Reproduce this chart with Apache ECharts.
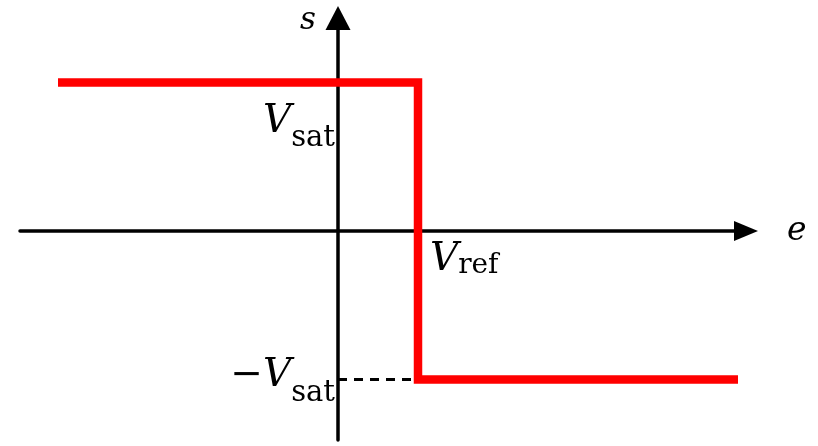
<!DOCTYPE html>
<html>
<head>
<meta charset="utf-8">
<title>Comparator transfer characteristic</title>
<script src="https://cdn.jsdelivr.net/npm/echarts@6/dist/echarts.min.js"></script>
<style>
  html, body { margin: 0; padding: 0; background: #fff; }
  #chart { width: 818px; height: 446px; }
</style>
</head>
<body>
<div id="chart"></div>
<script>
// Ideal comparator: output s switches from +Vsat to -Vsat when e crosses Vref.
const vRef = 1;     // switching threshold on the e axis
const vSat = 1;     // saturation level on the s axis

// Transfer curve (e, s) vertices
const curveE = [-3.5, vRef, vRef, 5];
const curveS = [vSat, vSat, -vSat, -vSat];

// Dashed guide from the s axis to the lower branch
const guideE = [0, vRef];
const guideS = [-vSat, -vSat];

// Axis names and level labels
const axisNameE = 'e';
const axisNameS = 's';
const levelLabels = [
  { key: 'sat',  e: 0,    s: vSat,  text: '{v|V}{sub|sat}' },
  { key: 'ref',  e: vRef, s: 0,     text: '{v|V}{sub|ref}' },
  { key: 'nsat', e: 0,    s: -vSat, text: '{v|\u2212V}{sub|sat}' }
];

const toPairs = (xs, ys) => xs.map((x, i) => [x, ys[i]]);

const serif = "'DejaVu Serif', 'Liberation Serif', serif";
const richFor = (subShift, subSize) => ({
  v:   { fontFamily: serif, fontStyle: 'italic', fontSize: 39, lineHeight: 44, color: '#000' },
  sub: { fontFamily: serif, fontSize: subSize, lineHeight: 44, color: '#000', padding: [subShift * 2, 0, 0, 0] }
});

const labelStyles = {
  sat:  { position: [-3, 17],  align: 'right', verticalAlign: 'top', rich: richFor(17, 29) },
  ref:  { position: [12, 7],   align: 'left',  verticalAlign: 'top', rich: richFor(6, 28) },
  nsat: { position: [-3, -26], align: 'right', verticalAlign: 'top', rich: richFor(18, 29) }
};

const chart = echarts.init(document.getElementById('chart'), null, { renderer: 'canvas' });

const axisLineStyle = { color: '#000', width: 3.5 };

chart.setOption({
  animation: false,
  backgroundColor: '#fff',
  grid: { left: 20, right: 72, top: 18, bottom: 6, containLabel: false },
  xAxis: {
    type: 'value',
    min: -3.975,
    max: 5.1,
    name: axisNameE,
    nameLocation: 'end',
    nameGap: 41,
    nameTextStyle: {
      fontFamily: serif, fontStyle: 'italic', fontSize: 33, color: '#000',
      align: 'left', verticalAlign: 'middle', padding: [6, 0, 0, 0]
    },
    axisLine: {
      show: true, onZero: true,
      symbol: ['none', 'triangle'], symbolSize: [20, 24],
      lineStyle: axisLineStyle
    },
    axisTick: { show: false },
    axisLabel: { show: false },
    splitLine: { show: false }
  },
  yAxis: {
    type: 'value',
    min: -1.407,
    max: 1.434,
    name: axisNameS,
    nameLocation: 'end',
    nameGap: -3,
    nameTextStyle: {
      fontFamily: serif, fontStyle: 'italic', fontSize: 31, color: '#000',
      align: 'right', verticalAlign: 'middle', padding: [0, 22, 0, 0]
    },
    axisLine: {
      show: true, onZero: true,
      symbol: ['none', 'triangle'], symbolSize: [25, 24],
      lineStyle: axisLineStyle
    },
    axisTick: { show: false },
    axisLabel: { show: false },
    splitLine: { show: false }
  },
  series: [
    {
      name: 'guide',
      type: 'line',
      data: toPairs(guideE, guideS),
      symbol: 'none',
      silent: true,
      z: 1,
      lineStyle: { color: '#000', width: 3, type: [9, 7] }
    },
    {
      name: 'transfer',
      type: 'line',
      data: toPairs(curveE, curveS),
      symbol: 'none',
      silent: true,
      z: 3,
      lineStyle: { color: '#ff0000', width: 8.5, join: 'miter', cap: 'butt' }
    },
    ...levelLabels.map(l => ({
      name: l.key,
      type: 'scatter',
      data: [[l.e, l.s]],
      symbolSize: 0,
      silent: true,
      z: 4,
      itemStyle: { opacity: 1 },
      label: {
        show: true,
        color: '#000',
        opacity: 1,
        textBorderWidth: 0,
        formatter: l.text,
        position: labelStyles[l.key].position,
        align: labelStyles[l.key].align,
        verticalAlign: labelStyles[l.key].verticalAlign,
        rich: labelStyles[l.key].rich
      }
    }))
  ]
});
</script>
</body>
</html>
